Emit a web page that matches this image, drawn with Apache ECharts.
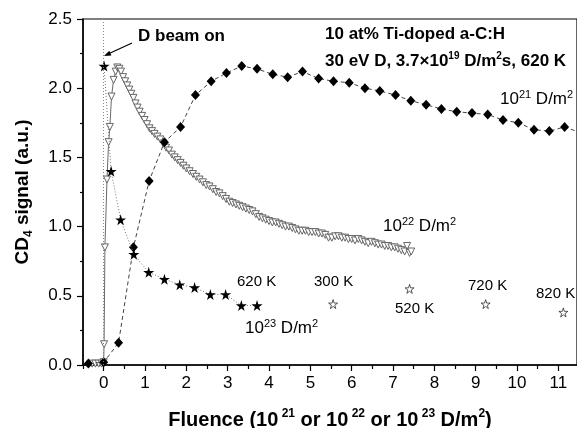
<!DOCTYPE html>
<html>
<head>
<meta charset="utf-8">
<script src="https://cdn.jsdelivr.net/npm/echarts@6/dist/echarts.min.js"></script>
<style>
  html, body { margin: 0; padding: 0; background: #fff; }
  #main { width: 577px; height: 428px; }
</style>
</head>
<body>
<div id="main"></div>
<script>
// 10^21 D/m2 (diamonds)
var fluence21 = [-0.37, 0, 0.36, 0.72, 1.10, 1.47, 1.86, 2.22, 2.60, 2.97, 3.34, 3.71, 4.09, 4.45, 4.81, 5.20, 5.56, 5.94, 6.32, 6.68, 7.06, 7.43, 7.80, 8.17, 8.54, 8.91, 9.29, 9.66, 10.03, 10.41, 10.78, 11.15, 11.52];
var signal21 = [0.01, 0.02, 0.16, 0.85, 1.33, 1.61, 1.72, 1.95, 2.05, 2.11, 2.16, 2.14, 2.10, 2.08, 2.12, 2.07, 2.05, 2.04, 2.00, 1.98, 1.95, 1.91, 1.88, 1.85, 1.83, 1.82, 1.81, 1.77, 1.75, 1.70, 1.69, 1.72, 1.68];

// 10^22 D/m2 (open triangles)
var fluence22 = [-0.28, -0.20, -0.12, -0.05, 0, 0.01, 0.03, 0.08, 0.12, 0.15, 0.19, 0.24, 0.29, 0.33,
  0.38, 0.42, 0.47, 0.52, 0.57, 0.62, 0.67, 0.72, 0.77, 0.82, 0.87, 0.93, 0.99, 1.05, 1.11, 1.17, 1.23, 1.30, 1.37, 1.44,
  1.51, 1.58, 1.65, 1.72, 1.79, 1.86, 1.93, 2.00, 2.08, 2.16, 2.24, 2.32, 2.40, 2.48, 2.56, 2.64, 2.72, 2.80, 2.88, 2.96,
  3.04, 3.12, 3.20, 3.28, 3.36, 3.44, 3.52, 3.60, 3.68, 3.76, 3.84, 3.92, 4.00, 4.08, 4.16, 4.24, 4.32, 4.40, 4.48, 4.56,
  4.64, 4.72, 4.80, 4.88, 4.96, 5.04, 5.12, 5.20, 5.28, 5.36, 5.44, 5.52, 5.60, 5.68, 5.76, 5.84, 5.92, 6.00, 6.08, 6.16,
  6.24, 6.32, 6.40, 6.48, 6.56, 6.64, 6.72, 6.80, 6.88, 6.96, 7.04, 7.12, 7.20, 7.28, 7.34, 7.40, 7.44];
var signal22 = [0.01, 0.01, 0.01, 0.01, 0.02, 0.15, 0.85, 1.34, 1.61, 1.72, 1.94, 2.06, 2.12, 2.15,
  2.14, 2.12, 2.08, 2.05, 2.02, 1.99, 1.96, 1.93, 1.89, 1.86, 1.83, 1.80, 1.77, 1.74, 1.71, 1.69, 1.67, 1.65, 1.63, 1.60,
  1.57, 1.55, 1.52, 1.50, 1.48, 1.46, 1.44, 1.42, 1.40, 1.38, 1.36, 1.34, 1.32, 1.30, 1.29, 1.27, 1.25, 1.24, 1.22, 1.20,
  1.18, 1.17, 1.16, 1.15, 1.14, 1.13, 1.12, 1.11, 1.09, 1.07, 1.06, 1.05, 1.04, 1.03, 1.03, 1.02, 1.01, 1.00, 1.00, 0.99,
  0.98, 0.97, 0.97, 0.97, 0.96, 0.96, 0.96, 0.95, 0.95, 0.94, 0.92, 0.92, 0.93, 0.93, 0.92, 0.92, 0.91, 0.91, 0.90, 0.91,
  0.90, 0.89, 0.88, 0.89, 0.88, 0.87, 0.87, 0.86, 0.86, 0.85, 0.85, 0.84, 0.83, 0.82, 0.86, 0.81, 0.82];

// 10^23 D/m2 at 620 K (filled stars)
var fluence23 = [0.01, 0.18, 0.41, 0.73, 1.09, 1.47, 1.84, 2.20, 2.58, 2.95, 3.33, 3.71];
var signal23 = [2.16, 1.40, 1.05, 0.80, 0.67, 0.62, 0.58, 0.56, 0.51, 0.51, 0.43, 0.43];

// other temperatures (open stars)
var tempLabels = ['300 K', '520 K', '720 K', '820 K'];
var tempFluence = [5.55, 7.40, 9.24, 11.12];
var tempSignal = [0.44, 0.55, 0.44, 0.38];

var xTicks = [0, 1, 2, 3, 4, 5, 6, 7, 8, 9, 10, 11];
var xMinorTicks = [-0.5, 0.5, 1.5, 2.5, 3.5, 4.5, 5.5, 6.5, 7.5, 8.5, 9.5, 10.5];

function zip(a, b) {
    var out = [];
    for (var i = 0; i < a.length; i++) out.push([a[i], b[i]]);
    return out;
}

var FONT = "'Liberation Sans', Arial, sans-serif";
var STAR = 'path://M50,0 L61,35 L98,35 L68,57 L79,91 L50,70 L21,91 L32,57 L2,35 L39,35 Z';

var supRich = {
    b: { fontFamily: FONT, fontWeight: 'bold', fontSize: 20, lineHeight: 24, color: '#000' },
    bs: { fontFamily: FONT, fontWeight: 'bold', fontSize: 12, lineHeight: 12, verticalAlign: 'top', color: '#000' },
    by: { fontFamily: FONT, fontWeight: 'bold', fontSize: 19, lineHeight: 24, color: '#000' },
    bsub: { fontFamily: FONT, fontWeight: 'bold', fontSize: 12, lineHeight: 12, verticalAlign: 'bottom', color: '#000' },
    n: { fontFamily: FONT, fontSize: 17, lineHeight: 21, color: '#000' },
    ns: { fontFamily: FONT, fontSize: 11, lineHeight: 11, verticalAlign: 'top', color: '#000' },
    t: { fontFamily: FONT, fontWeight: 'bold', fontSize: 17, lineHeight: 21, color: '#000' },
    ts: { fontFamily: FONT, fontWeight: 'bold', fontSize: 10, lineHeight: 10, verticalAlign: 'top', color: '#000' }
};

function txt(x, y, text, size) {
    return {
        type: 'text', left: x, top: y,
        style: { text: text, rich: supRich, fontFamily: FONT, fontSize: size || 14, fill: '#000' }
    };
}

var myChart = echarts.init(document.getElementById('main'));
var option = {
    animation: false,
    backgroundColor: '#fff',
    grid: {
        left: 83, top: 19, right: 0, bottom: 63,
        containLabel: false, outerBoundsMode: 'none',
        show: true, borderColor: '#000', borderWidth: 1.2
    },
    xAxis: [
        {
            type: 'value', min: -0.5, max: 11.45,
            name: '{b|Fluence (10}{bs| 21}{b| or 10}{bs| 22}{b| or 10}{bs| 23}{b| D/m}{bs|2}{b|)}',
            nameLocation: 'middle', nameGap: 43,
            nameTextStyle: { rich: supRich },
            axisLine: { onZero: false, lineStyle: { color: '#000', width: 1.5 } },
            axisTick: { customValues: xTicks, length: 6, lineStyle: { color: '#000', width: 1.2 } },
            axisLabel: { customValues: xTicks, fontFamily: FONT, fontSize: 17, color: '#000', margin: 10 },
            splitLine: { show: false }
        },
        {
            type: 'value', min: -0.5, max: 11.45, position: 'bottom',
            axisLine: { show: false, onZero: false },
            axisTick: { customValues: xMinorTicks, length: 4, lineStyle: { color: '#000', width: 1.2 } },
            axisLabel: { show: false },
            splitLine: { show: false }
        }
    ],
    yAxis: {
        type: 'value', min: 0, max: 2.5, interval: 0.5,
        name: '{by|CD}{bsub|4}{by| signal (a.u.)}',
        nameLocation: 'middle', nameGap: 48,
        nameTextStyle: { rich: supRich },
        axisLine: { show: true, onZero: false, lineStyle: { color: '#000', width: 1.5 } },
        axisTick: { length: 6, lineStyle: { color: '#000', width: 1.2 } },
        minorTick: { show: true, splitNumber: 2, length: 3, lineStyle: { color: '#000', width: 1.2 } },
        axisLabel: {
            fontFamily: FONT, fontSize: 17, color: '#000', margin: 11,
            formatter: function (v) { return v.toFixed(1); }
        },
        splitLine: { show: false }
    },
    series: [
        {
            name: '10^21', type: 'line', data: zip(fluence21, signal21),
            symbol: 'diamond', symbolSize: [9, 10],
            itemStyle: { color: '#000' },
            lineStyle: { color: '#444', width: 1, type: [4, 3] },
            z: 3,
            markLine: {
                silent: true, symbol: 'none', label: { show: false },
                lineStyle: { color: '#888', width: 1, type: [1, 2] },
                data: [{ xAxis: 0 }]
            }
        },
        {
            name: '10^22', type: 'line', data: zip(fluence22, signal22),
            symbol: 'triangle', symbolRotate: 180, symbolSize: 7,
            itemStyle: { color: '#fff', borderColor: '#666', borderWidth: 1 },
            lineStyle: { color: '#444', width: 0.8 },
            z: 2
        },
        {
            name: '10^23', type: 'line', data: zip(fluence23, signal23),
            symbol: STAR, symbolSize: 11,
            itemStyle: { color: '#000' },
            lineStyle: { color: '#777', width: 1, type: [1, 2] },
            z: 4
        },
        {
            name: 'temps', type: 'scatter', data: zip(tempFluence, tempSignal),
            symbol: STAR, symbolSize: 9,
            itemStyle: { color: '#fff', borderColor: '#000', borderWidth: 0.8 },
            z: 4
        }
    ],
    graphic: [
        txt(138, 28, '{t|D beam on}'),
        { type: 'line', shape: { x1: 132, y1: 43, x2: 107, y2: 54.5 }, style: { stroke: '#000', lineWidth: 1.2 } },
        { type: 'polygon', shape: { points: [[104, 56], [111.4, 55.4], [109.3, 50.8]] }, style: { fill: '#000' } },
        txt(325, 26, '{t|10 at% Ti-doped a-C:H}'),
        txt(325, 51, '{t|30 eV D, 3.7×10}{ts|19}{t| D/m}{ts|2}{t|s, 620 K}'),
        txt(500, 89, '{n|10}{ns|21}{n| D/m}{ns|2}'),
        txt(383, 216, '{n|10}{ns|22}{n| D/m}{ns|2}'),
        txt(245, 318, '{n|10}{ns|23}{n| D/m}{ns|2}'),
        txt(237, 274, '620 K', 15),
        txt(314, 274, tempLabels[0], 15),
        txt(395, 301, tempLabels[1], 15),
        txt(468, 278, tempLabels[2], 15),
        txt(536, 286, tempLabels[3], 15)
    ]
};
myChart.setOption(option);
</script>
</body>
</html>
